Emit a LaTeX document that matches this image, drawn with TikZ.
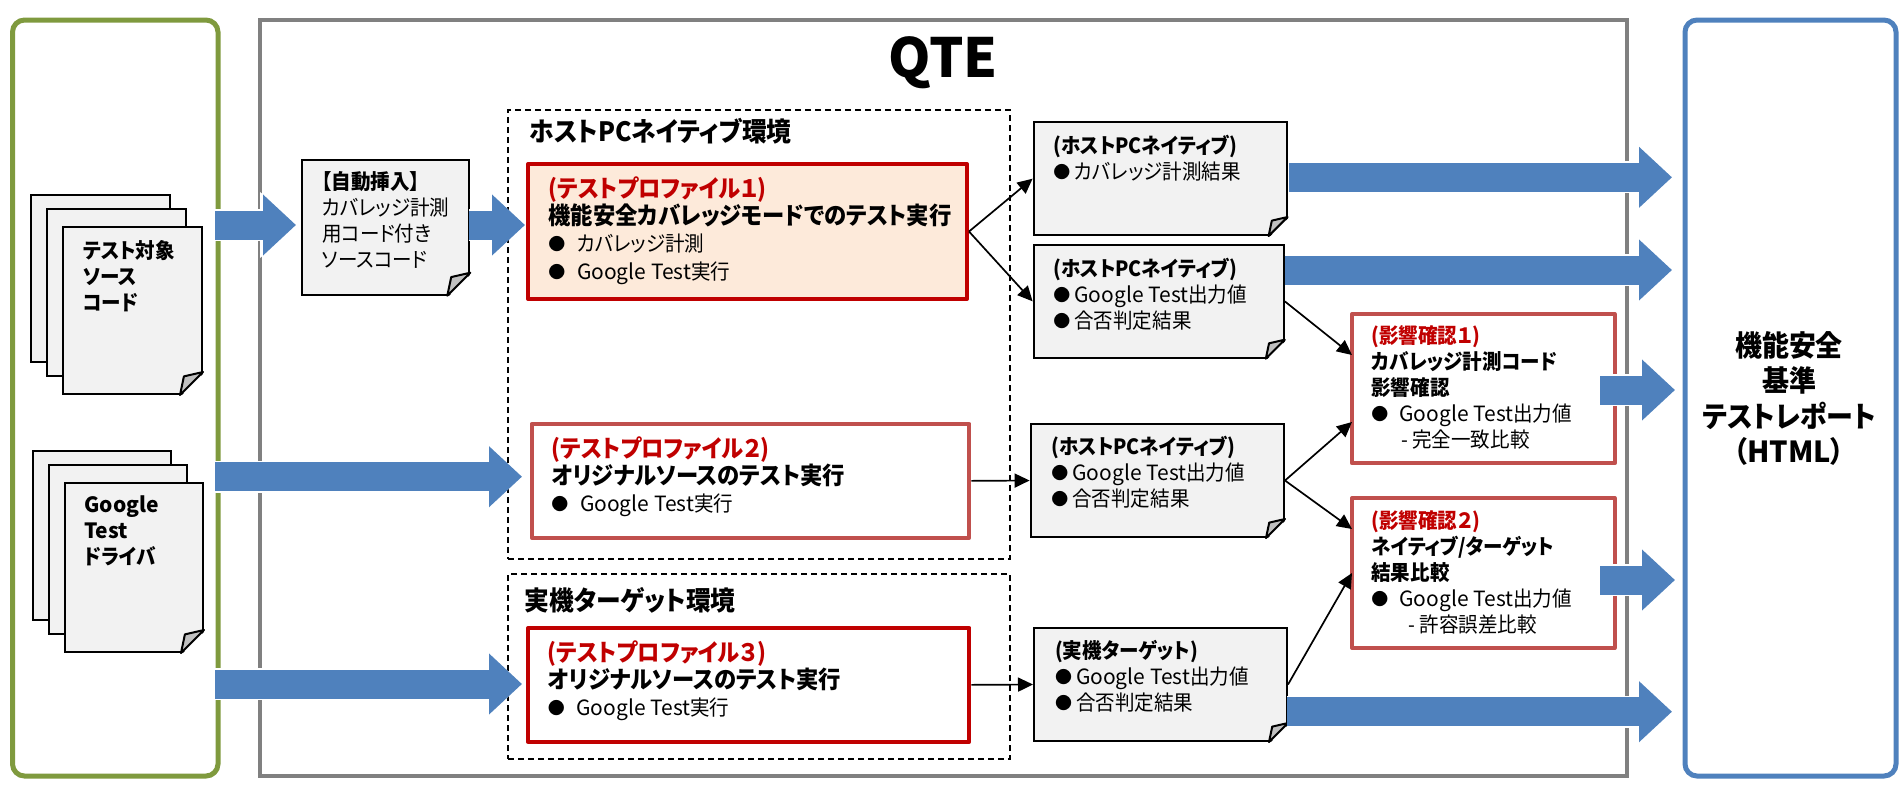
\documentclass[tikz,border=0pt]{standalone}
\usepackage{fontspec}
\setmainfont{Noto Sans CJK JP}[RawFeature={+palt},FakeStretch=0.93]
\newfontfamily\latinfont{Noto Sans CJK JP}
\usetikzlibrary{arrows.meta,calc,fit}

\definecolor{areagreen}{HTML}{7F9A3E}
\definecolor{areablue}{HTML}{4F81BD}
\definecolor{areagray}{HTML}{808080}
\definecolor{docgray}{HTML}{F2F2F2}
\definecolor{foldgray}{HTML}{C0C0C0}
\definecolor{profred}{HTML}{C00000}
\definecolor{softred}{HTML}{C0504D}
\definecolor{proffill}{HTML}{FDEADA}

\newcommand{\bodyfont}{\fontsize{10.5}{13}\selectfont\lineskiplimit=-20pt\relax}
\newcommand{\proffont}{\fontsize{10.5}{13.7}\selectfont\lineskiplimit=-20pt\relax}
\newcommand{\reportfont}{\fontsize{14.5}{17.7}\selectfont\bfseries\lineskiplimit=-20pt\relax}
\newcommand{\hdbig}[1]{{\fontsize{12}{13}\selectfont\bfseries #1}}
\newcommand{\redbig}[1]{{\fontsize{12}{13}\selectfont\bfseries\color{profred}#1}}
\newcommand{\redmid}[1]{{\bfseries\color{profred}#1}}
\newcommand{\gtest}{{\latinfont Google Test}}
\newcommand{\bullmark}{\raisebox{0.6pt}{\latinfont\fontsize{8.5}{8.5}\selectfont ●}}
\newcommand{\bulwide}{\makebox[14.3pt][l]{\bullmark}}
\newcommand{\bulsmall}{\makebox[10.5pt][l]{\bullmark}}

\tikzset{
    areabox/.style={draw, line width=2.5pt, rounded corners=6pt, inner sep=0pt},
    envbox/.style={draw, dashed, line width=0.8pt, dash pattern=on 3pt off 2pt, inner sep=0pt},
    docbox/.style={draw, line width=1pt, fill=docgray, inner sep=0pt},
    profbox/.style={draw, line width=2pt, line join=round, inner sep=0pt},
    txt/.style={anchor=north west, inner sep=0pt, align=left, font=\bodyfont, execute at begin node={\rule{0pt}{11pt}}},
    proftxt/.style={txt, font=\proffont},
    envlabel/.style={anchor=west, inner sep=0pt, font=\fontsize{13.3}{15}\selectfont\bfseries},
    thinarrow/.style={draw, line width=0.85pt, -{Triangle[length=7.5pt,width=7pt]}},
    fatarrow/.style={draw=areablue, line width=14.5pt, -{Triangle[length=16.5pt,width=29.5pt]},
        preaction={draw=white, line width=16pt, -{Triangle[length=18pt,width=32pt]}}}
}

\begin{document}
\begin{tikzpicture}[x=0.5pt,y=-0.5pt]
    \useasboundingbox (0,0) rectangle (1903,800);

    % Outer areas
    \node[areabox, draw=areagreen, fit={(12.5,20) (218,776)}] (srcarea) {};
    \node[draw=areagray, line width=2pt, inner sep=0pt, fit={(260,20) (1627,776)}] (qte) {};
    \node[areabox, draw=areablue, fit={(1685,20) (1896,776)}] (report) {};
    \node[font=\fontsize{27}{30}\latinfont\selectfont\bfseries] (qtetitle) at (943,63) {QTE};

    % Environments
    \node[envbox, fit={(508,110) (1010,559)}] (hostenv) {};
    \node[envlabel] (hostlabel) at (529,131) {ホストPCネイティブ環境};
    \node[envbox, fit={(508,574) (1010,759)}] (targetenv) {};
    \node[envlabel] (targetlabel) at (524.5,600) {実機ターゲット環境};

    % Source documents
    \node[docbox, fit={(30.7,195) (170,362)}] (srca) {};
    \node[docbox, fit={(46.7,209) (186,376)}] (srcb) {};
    \node[docbox, fit={(62.7,226.7) (202,394)}] (srcc) {};
    \node[docbox, fit={(33,450.7) (171,620)}] (drva) {};
    \node[docbox, fit={(48.6,464.7) (187,634)}] (drvb) {};
    \node[docbox, fit={(64.8,482.7) (203,652)}] (drvc) {};
    \node[docbox, fit={(301.7,160) (469.3,294.7)}] (auto) {};

    % Test profiles
    \node[profbox, draw=profred, fill=proffill, fit={(528,164) (967,299)}] (prof1) {};
    \node[profbox, draw=softred, fit={(531.6,424) (969.4,537.7)}] (prof2) {};
    \node[profbox, draw=profred, fit={(528,628) (969.4,741.7)}] (prof3) {};

    % Results
    \node[docbox, fit={(1033.6,122.3) (1286.6,235)}] (res1) {};
    \node[docbox, fit={(1033.6,245) (1283.8,357.7)}] (res2) {};
    \node[docbox, fit={(1030.6,424) (1284,537)}] (res3) {};
    \node[docbox, fit={(1034,628) (1287,741)}] (res4) {};

    % Folded corners
    \foreach \n/\f in {srcc/23,drvc/23,auto/23,res1/19,res2/19,res3/19,res4/19} {
        \fill[white] ($(\n.south east)+(-\f,2)$) -- ($(\n.south east)+(2,2)$) -- ($(\n.south east)+(2,-\f)$) -- cycle;
        \draw[line width=1pt, line join=round, fill=foldgray] ($(\n.south east)+(-\f,0)$) -- ($(\n.south east)+(-0.83*\f,-0.81*\f)$) -- ($(\n.south east)+(0,-\f)$) -- cycle;
    }

    % Checks
    \node[profbox, draw=softred, fit={(1352,314) (1614.6,463.3)}] (check1) {};
    \node[profbox, draw=softred, fit={(1352,498) (1614.6,648)}] (check2) {};
    \coordinate (check1a) at (1352,355);
    \coordinate (check1b) at (1352,422);
    \coordinate (check2a) at (1352,529);
    \coordinate (check2b) at (1352,573);

    % Thin arrows
    \draw[thinarrow] (prof1.east) -- (res1.west);
    \draw[thinarrow] (prof1.east) -- (res2.west);
    \draw[thinarrow] (prof2.east) -- (res3.west);
    \draw[thinarrow] (prof3.east) -- (res4.west);
    \draw[thinarrow] (res2.east) -- (check1a);
    \draw[thinarrow] (res3.east) -- (check1b);
    \draw[thinarrow] (res3.east) -- (check2a);
    \draw[thinarrow] (res4.east) -- (check2b);

    % Fat arrows
    \foreach \a/\xa/\xb/\y in {a/215/296/225, b/469/525/225, c/215/522/476.7, d/215/522/684,
                               e/1289/1672/177.3, f/1284.6/1672/270, g/1600/1675/390,
                               h/1600/1675/580, i/1287/1672/711.7} {
        \coordinate (fat\a s) at (\xa,\y);
        \coordinate (fat\a e) at (\xb,\y);
        \draw[fatarrow] (fat\a s) -- (fat\a e);
    }

    % Texts
    \node[txt, font=\bodyfont\bfseries] (srctxt) at (82.7,240) {テスト対象\\ソース\\コード};
    \node[txt, font=\bodyfont\bfseries] (drvtxt) at (84,495) {{\latinfont Google}\\{\latinfont Test}\\ドライバ};
    \node[txt] (autotxt) at (321.7,171) {\textbf{【自動挿入】}\\カバレッジ計測\\用コード付き\\ソースコード};

    \node[proftxt] (prof1txt) at (548,176) {\redbig{(テストプロファイル１)}\\\hdbig{機能安全カバレッジモードでのテスト実行}\\\bulwide カバレッジ計測\\\bulwide\gtest 実行};
    \node[proftxt] (prof2txt) at (551,436) {\redbig{(テストプロファイル２)}\\\hdbig{オリジナルソースのテスト実行}\\\bulwide\gtest 実行};
    \node[proftxt] (prof3txt) at (547.4,640) {\redbig{(テストプロファイル３)}\\\hdbig{オリジナルソースのテスト実行}\\\bulwide\gtest 実行};

    \node[txt] (res1txt) at (1053,135) {\textbf{(ホストPCネイティブ)}\\\bulsmall カバレッジ計測結果};
    \node[txt] (res2txt) at (1053,257.5) {\textbf{(ホストPCネイティブ)}\\\bulsmall\gtest 出力値\\\bulsmall 合否判定結果};
    \node[txt] (res3txt) at (1051,436) {\textbf{(ホストPCネイティブ)}\\\bulsmall\gtest 出力値\\\bulsmall 合否判定結果};
    \node[txt] (res4txt) at (1054.6,640) {\textbf{(実機ターゲット)}\\\bulsmall\gtest 出力値\\\bulsmall 合否判定結果};

    \node[txt] (check1txt) at (1371,325.5) {\redmid{(影響確認１)}\\\textbf{カバレッジ計測コード}\\\textbf{影響確認}\\\makebox[14pt][l]{\bullmark}\gtest 出力値\\\hspace*{14.9pt}- 完全一致比較};
    \node[txt] (check2txt) at (1371,510.5) {\redmid{(影響確認２)}\\\textbf{ネイティブ/ターゲット}\\\textbf{結果比較}\\\makebox[14pt][l]{\bullmark}\gtest 出力値\\\hspace*{18.5pt}- 許容誤差比較};

    \node[align=center, inner sep=0pt, font=\reportfont] (reporttxt) at (1789,398.5) {機能安全\\基準\\テストレポート\\（{\latinfont HTML}）};
\end{tikzpicture}
\end{document}
